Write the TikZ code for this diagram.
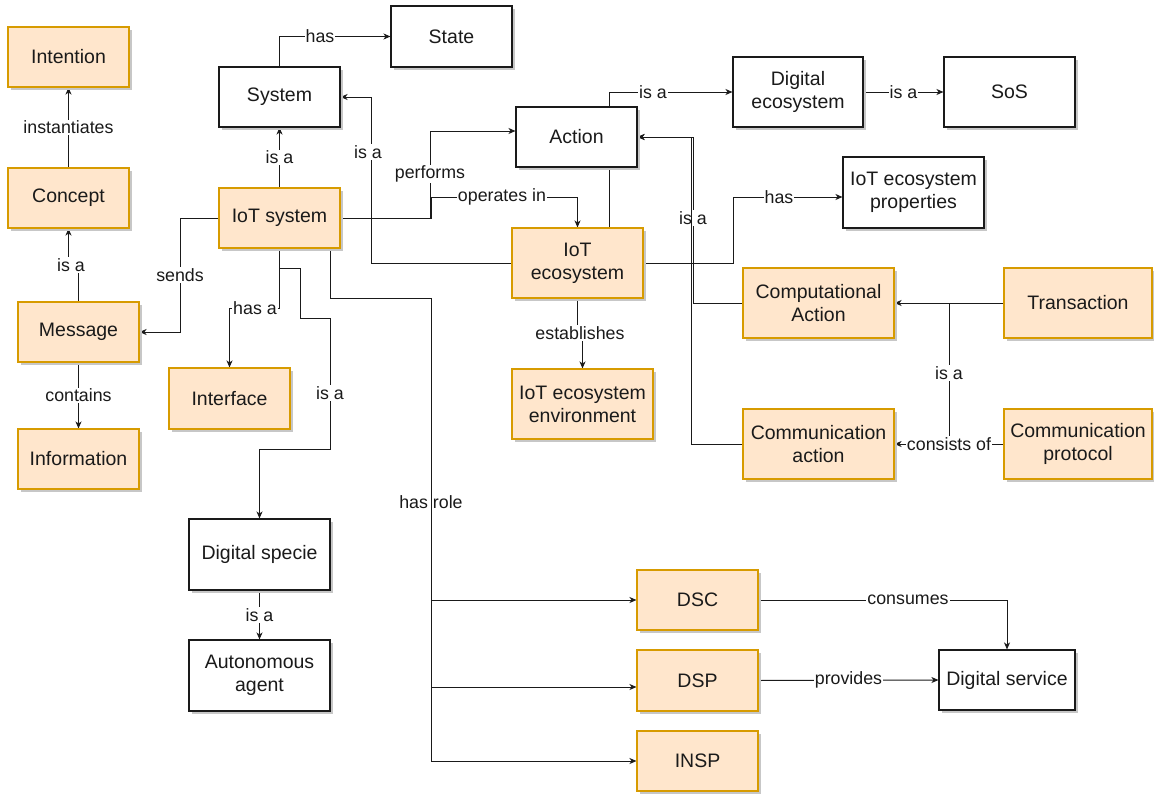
\documentclass[tikz,border=0pt]{standalone}
\usepackage{fontspec}
\setmainfont{Liberation Sans}
\usetikzlibrary{arrows.meta,shadows}
\definecolor{dPeach}{HTML}{FFE6CC}
\definecolor{dOrange}{HTML}{D79B00}
\definecolor{ink}{HTML}{1A1A1A}
\pgfdeclarelayer{edges}
\pgfsetlayers{edges,main}
\tikzset{
  base/.style={rectangle, line width=1.1pt, inner sep=2pt, align=center,
    font=\fontsize{19.5}{23}\selectfont, text=ink,
    drop shadow={shadow xshift=3pt, shadow yshift=-3pt, fill=black!22, opacity=1}},
  plain/.style={base, draw=ink, fill=white},
  hot/.style={base, draw=dOrange, fill=dPeach},
  sz/.style 2 args={minimum width=#1pt, minimum height=#2pt},
  link/.style={line width=1pt, draw=ink, -{Stealth[length=7pt,width=6pt,inset=2pt]}},
  bare/.style={line width=1pt, draw=ink},
  lbl/.style={fill=white, inner sep=1pt, font=\fontsize{17.8}{20}\selectfont, text=ink},
}
\begin{document}
\begin{tikzpicture}[x=1pt,y=-1pt]
\useasboundingbox (0,0) rectangle (1154,795);

% concept chain on the left
\node[hot, sz={121}{60}] (intention) at (68.5,57) {Intention};
\node[hot, sz={121}{60}] (concept) at (68.5,198) {Concept};
\node[hot, sz={121}{60}] (message) at (78.5,332) {Message};
\node[hot, sz={121}{60}] (information) at (78.5,459) {Information};

% systems
\node[plain, sz={121}{60}] (system) at (279.5,97) {System};
\node[plain, sz={121}{61}] (state) at (451.5,36.5) {State};
\node[hot, sz={121}{60}] (iotsys) at (279.5,218) {IoT system};
\node[hot, sz={121}{61}] (interface) at (229.5,398.5) {Interface};
\node[plain, sz={141}{71}] (specie) at (259.5,554.5) {Digital specie};
\node[plain, sz={141}{71}] (agent) at (259.5,675.5) {Autonomous\\agent};

% ecosystem
\node[plain, sz={121}{60}] (action) at (576.5,137) {Action};
\node[hot, sz={131}{70}] (iotecosys) at (577.5,263) {IoT\\ecosystem};
\node[hot, sz={141}{70}] (env) at (582.5,404) {IoT ecosystem\\environment};
\node[plain, sz={130}{70}] (digeco) at (798,92) {Digital\\ecosystem};
\node[plain, sz={131}{70}] (sos) at (1009.5,92) {SoS};
\node[plain, sz={141}{71}] (props) at (913.5,192.5) {IoT ecosystem\\properties};

% actions
\node[hot, sz={151}{70}] (comp) at (818.5,303) {Computational\\Action};
\node[hot, sz={151}{70}] (comm) at (818.5,444) {Communication\\action};
\node[hot, sz={148}{70}] (trans) at (1078,303) {Transaction};
\node[hot, sz={148}{70}] (proto) at (1078,444) {Communication\\protocol};

% roles and service
\node[hot, sz={121}{60}] (dsc) at (697.5,600) {DSC};
\node[hot, sz={121}{61}] (dsp) at (697.5,680.5) {DSP};
\node[hot, sz={121}{60}] (insp) at (697.5,761) {INSP};
\node[plain, sz={136}{60}] (service) at (1007,680) {Digital service};

\begin{pgfonlayer}{edges}
% left column
\draw[link] (concept.north) -- node[lbl]{instantiates} (intention.south);
\draw[link] (message.north) -- (78.5,265) -- (68.5,265) -- (concept.south);
\node[lbl] at (71,265) {is a};
\draw[link] (message.south) -- node[lbl]{contains} (information.north);
\draw[link] (iotsys.west) -- (180,218) -- node[lbl]{sends} (180,332) -- (message.east);

% system relations
\draw[link] (system.north) -- (279.5,36.5) -- (state.west);
\node[lbl] at (320,36.5) {has};
\draw[link] (iotsys.north) -- node[lbl]{is a} (system.south);
\draw[link] (iotecosys.west) -- (371,263) -- (371,97) -- (system.east);
\node[lbl] at (368,152) {is a};

% IoT system to ecosystem side
\draw[link] (iotsys.east) -- (430,218) -- (430,131) -- (action.west |- 0,131);
\node[lbl] at (430,174) {performs};
\draw[link] (iotsys.east) -- (431,218) -- (431,197) -- (577.5,197) -- (iotecosys.north);
\node[lbl] at (502,197) {operates in};

% ecosystem relations
\draw[link] (iotecosys.north -| 609,0) -- (609,92) -- (digeco.west);
\node[lbl] at (653,92) {is a};
\draw[link] (digeco.east) -- node[lbl]{is a} (sos.west);
\draw[link] (iotecosys.east) -- (733,263) -- (733,197) -- (props.west |- 0,197);
\node[lbl] at (779,197) {has};
\draw[link] (iotecosys.south) -- (577.5,333) -- (582.5,333) -- (env.north);
\node[lbl] at (580,333) {establishes};

% action hierarchy
\draw[link] (comp.west) -- (693,303) -- (693,137) -- (action.east);
\node[lbl] at (693,218) {is a};
\draw[link] (comm.west) -- (691,444) -- (691,137) -- (action.east);
\draw[link] (trans.west) -- (comp.east);
\coordinate (ta) at (949,303);
\coordinate (pc) at (949,444);
\draw[bare] (ta) -- (pc);
\node[lbl] at (949,373) {is a};
\draw[link] (proto.west) -- node[lbl]{consists of} (comm.east);

% IoT system downward
\draw[link] (iotsys.south) -- (279.5,308) -- (229.5,308) -- (interface.north);
\node[lbl] at (255,308) {has a};
\draw[link] (iotsys.south) -- (279.5,268) -- (300,268) -- (300,318) -- (330,318)
  -- (330,449) -- (259.5,449) -- (specie.north);
\node[lbl] at (330,393) {is a};
\draw[link] (specie.south) -- node[lbl]{is a} (agent.north);

% roles
\draw[link] (iotsys.south -| 330,0) -- (330,298) -- (431,298) -- (431,600) -- (dsc.west);
\draw[link] (iotsys.south -| 330,0) -- (330,298) -- (431,298) -- (431,687) -- (dsp.west |- 0,687);
\node[lbl] at (431,502) {has role};
\draw[link] (iotsys.south -| 330,0) -- (330,298) -- (431,298) -- (431,761) -- (insp.west);

% digital service
\draw[link] (dsc.east) -- (1007,600) -- (service.north);
\node[lbl] at (908,600) {consumes};
\draw[link] (dsp.east) -- node[lbl]{provides} (service.west);
\end{pgfonlayer}
\end{tikzpicture}
\end{document}
